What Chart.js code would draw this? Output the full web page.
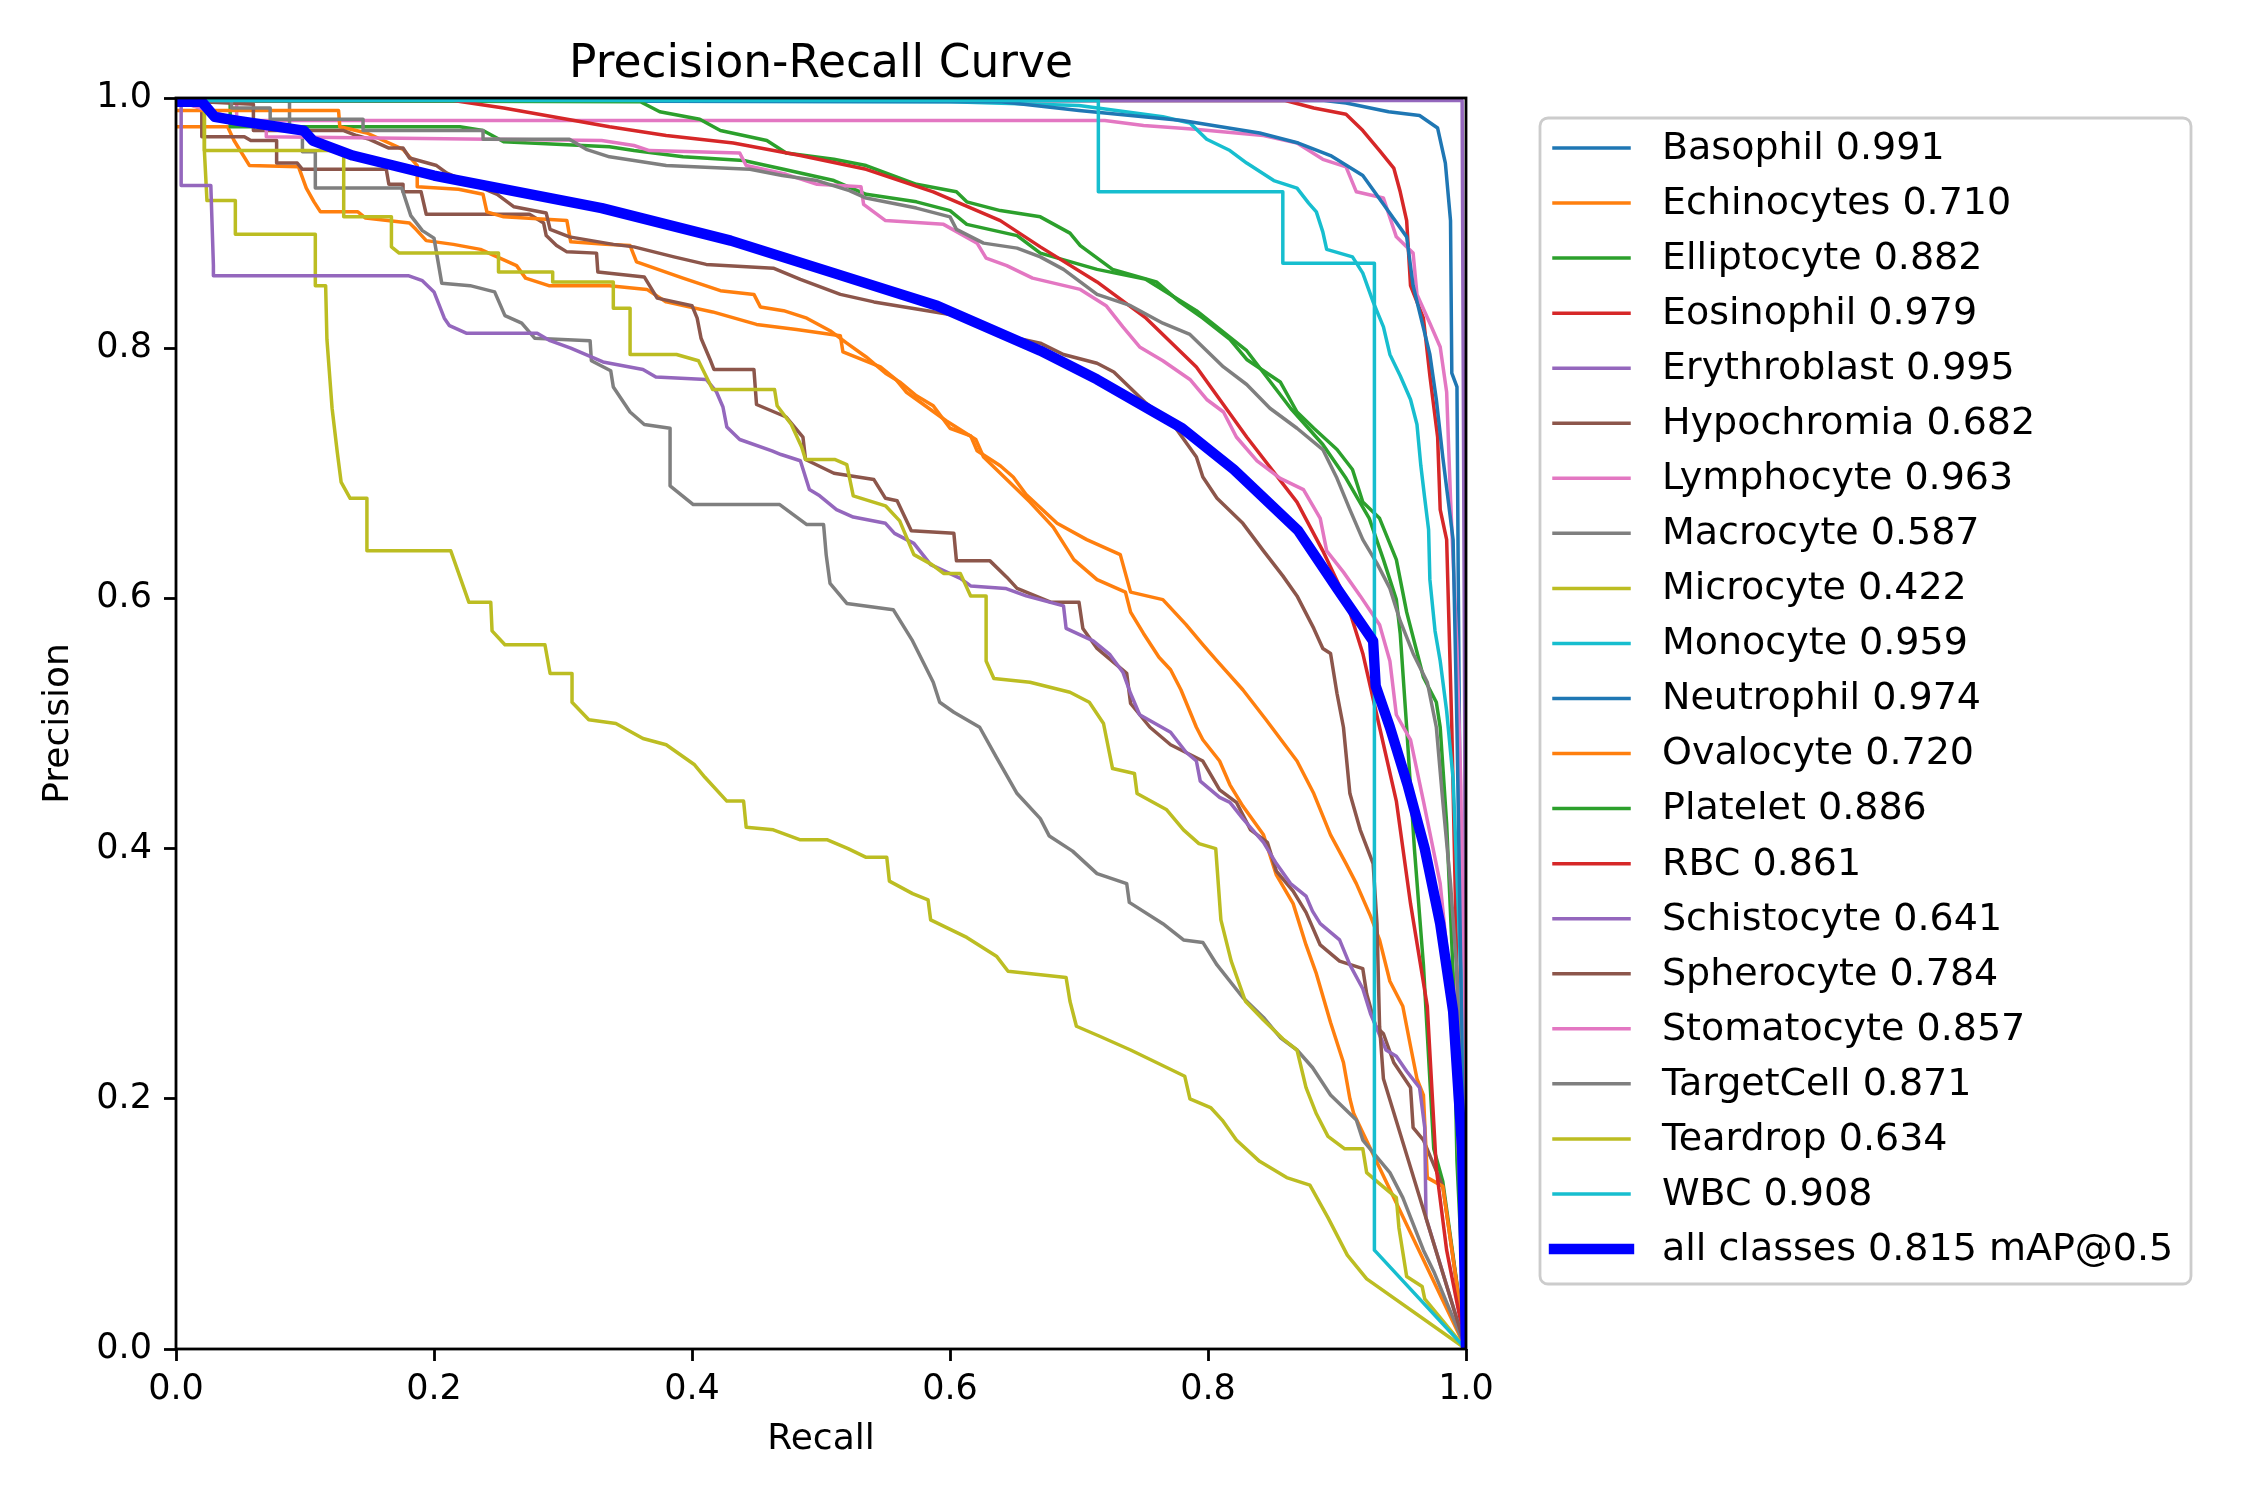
<!DOCTYPE html>
<html>
<head>
<meta charset="utf-8">
<title>Precision-Recall Curve</title>
<script src="https://cdn.jsdelivr.net/npm/chart.js@4.4.1/dist/chart.umd.min.js"></script>
<style>
  html, body { margin: 0; padding: 0; background: #fff; }
  canvas { display: block; }
</style>
</head>
<body>
<canvas id="prChart" width="2250" height="1500"></canvas>
<script>
const classNames = ['Basophil', 'Echinocytes', 'Elliptocyte', 'Eosinophil', 'Erythroblast', 'Hypochromia',
  'Lymphocyte', 'Macrocyte', 'Microcyte', 'Monocyte', 'Neutrophil', 'Ovalocyte', 'Platelet', 'RBC',
  'Schistocyte', 'Spherocyte', 'Stomatocyte', 'TargetCell', 'Teardrop', 'WBC'];
const apScores = [0.991, 0.710, 0.882, 0.979, 0.995, 0.682, 0.963, 0.587, 0.422, 0.959,
  0.974, 0.720, 0.886, 0.861, 0.641, 0.784, 0.857, 0.871, 0.634, 0.908];
const meanAP = 0.815;
const axisTicks = [0, 0.2, 0.4, 0.6, 0.8, 1.0];

// [recall, precision] pairs
const basophil = [[0,0.998],[0.89,0.998],[0.907,0.996],[0.94,0.989],[0.964,0.986],[0.978,0.976],[0.984,0.948],[0.988,0.902],[0.989,0.78],[0.993,0.769],[0.994,0.615],[0.996,0.35],[1,0]];
const echinocytes = [[0,0.977],[0.04,0.977],[0.045,0.966],[0.057,0.946],[0.095,0.945],[0.101,0.928],[0.107,0.917],[0.112,0.909],[0.141,0.909],[0.147,0.904],[0.181,0.9],[0.186,0.895],[0.194,0.886],[0.215,0.883],[0.236,0.879],[0.264,0.866],[0.271,0.856],[0.289,0.85],[0.336,0.85],[0.365,0.847],[0.38,0.837],[0.416,0.829],[0.45,0.819],[0.481,0.815],[0.515,0.81],[0.517,0.797],[0.546,0.785],[0.558,0.775],[0.566,0.765],[0.597,0.742],[0.62,0.727],[0.626,0.713],[0.652,0.687],[0.662,0.677],[0.68,0.657],[0.696,0.631],[0.714,0.615],[0.736,0.605],[0.74,0.589],[0.75,0.572],[0.762,0.553],[0.771,0.543],[0.779,0.527],[0.791,0.497],[0.796,0.487],[0.809,0.47],[0.817,0.451],[0.827,0.434],[0.843,0.411],[0.853,0.379],[0.866,0.356],[0.876,0.323],[0.884,0.3],[0.895,0.261],[0.905,0.229],[0.91,0.2],[0.913,0.188],[1,0]];
const elliptocyte = [[0,0.998],[0.042,0.998],[0.042,0.977],[0.22,0.977],[0.238,0.974],[0.254,0.965],[0.336,0.961],[0.355,0.958],[0.393,0.953],[0.44,0.95],[0.471,0.943],[0.51,0.934],[0.535,0.923],[0.574,0.917],[0.6,0.91],[0.613,0.899],[0.652,0.89],[0.67,0.876],[0.714,0.863],[0.752,0.855],[0.791,0.83],[0.83,0.798],[0.864,0.752],[0.889,0.723],[0.907,0.696],[0.925,0.664],[0.936,0.631],[0.946,0.599],[0.949,0.572],[0.954,0.497],[0.96,0.4],[0.967,0.307],[0.975,0.16],[0.982,0.134],[1,0]];
const eosinophil = [[0,0.998],[0.86,0.998],[0.882,0.992],[0.907,0.987],[0.92,0.974],[0.933,0.958],[0.944,0.944],[0.949,0.925],[0.954,0.902],[0.957,0.85],[0.967,0.824],[0.972,0.778],[0.978,0.729],[0.98,0.671],[0.985,0.647],[0.989,0.497],[0.993,0.3],[1,0]];
const erythroblast = [[0,0.998],[0.997,0.998],[0.999,0.5],[1,0]];
const hypochromia = [[0,0.998],[0.02,0.992],[0.02,0.969],[0.053,0.969],[0.058,0.966],[0.078,0.966],[0.078,0.948],[0.094,0.948],[0.098,0.943],[0.163,0.943],[0.165,0.931],[0.176,0.931],[0.176,0.925],[0.19,0.925],[0.194,0.907],[0.274,0.907],[0.285,0.9],[0.287,0.89],[0.295,0.882],[0.303,0.877],[0.326,0.876],[0.327,0.861],[0.363,0.857],[0.373,0.84],[0.4,0.834],[0.404,0.824],[0.407,0.808],[0.414,0.791],[0.417,0.783],[0.448,0.783],[0.45,0.755],[0.473,0.745],[0.486,0.729],[0.488,0.711],[0.51,0.7],[0.541,0.695],[0.55,0.68],[0.559,0.678],[0.57,0.654],[0.603,0.652],[0.605,0.63],[0.631,0.63],[0.644,0.617],[0.652,0.608],[0.678,0.597],[0.7,0.597],[0.703,0.576],[0.714,0.56],[0.737,0.54],[0.74,0.516],[0.755,0.497],[0.771,0.483],[0.796,0.47],[0.809,0.447],[0.822,0.437],[0.833,0.415],[0.846,0.405],[0.853,0.382],[0.866,0.366],[0.876,0.349],[0.887,0.323],[0.902,0.31],[0.92,0.304],[0.923,0.284],[0.93,0.258],[0.936,0.252],[0.944,0.229],[0.957,0.209],[0.959,0.177],[0.967,0.167],[0.982,0.13],[0.988,0.087],[1,0]];
const lymphocyte = [[0,0.998],[0.047,0.998],[0.047,0.982],[0.72,0.982],[0.75,0.978],[0.79,0.975],[0.843,0.97],[0.869,0.964],[0.889,0.951],[0.907,0.945],[0.915,0.925],[0.936,0.92],[0.946,0.889],[0.959,0.876],[0.962,0.843],[0.972,0.82],[0.98,0.801],[0.985,0.765],[0.988,0.68],[0.993,0.56],[0.996,0.45],[0.998,0.3],[1,0]];
const macrocyte = [[0,0.998],[0.088,0.998],[0.088,0.974],[0.098,0.974],[0.098,0.957],[0.108,0.957],[0.108,0.928],[0.175,0.928],[0.182,0.906],[0.191,0.894],[0.2,0.888],[0.206,0.852],[0.228,0.85],[0.247,0.845],[0.255,0.826],[0.268,0.82],[0.278,0.808],[0.321,0.806],[0.322,0.79],[0.337,0.782],[0.339,0.769],[0.352,0.749],[0.363,0.739],[0.383,0.736],[0.383,0.69],[0.401,0.675],[0.468,0.675],[0.489,0.659],[0.502,0.659],[0.504,0.635],[0.507,0.612],[0.52,0.596],[0.556,0.591],[0.571,0.566],[0.587,0.533],[0.592,0.517],[0.603,0.509],[0.623,0.497],[0.636,0.473],[0.652,0.444],[0.67,0.424],[0.677,0.41],[0.695,0.398],[0.714,0.38],[0.737,0.372],[0.739,0.357],[0.765,0.34],[0.781,0.327],[0.796,0.325],[0.807,0.307],[0.827,0.281],[0.843,0.265],[0.856,0.249],[0.869,0.239],[0.881,0.225],[0.895,0.203],[0.915,0.183],[0.92,0.167],[0.941,0.141],[0.951,0.121],[0.967,0.079],[0.975,0.062],[1,0]];
const microcyte = [[0,0.998],[0.022,0.998],[0.022,0.958],[0.024,0.918],[0.046,0.918],[0.046,0.891],[0.108,0.891],[0.108,0.85],[0.116,0.85],[0.117,0.807],[0.121,0.752],[0.125,0.717],[0.128,0.693],[0.135,0.68],[0.148,0.68],[0.148,0.638],[0.213,0.638],[0.227,0.597],[0.244,0.597],[0.245,0.574],[0.255,0.563],[0.286,0.563],[0.29,0.54],[0.307,0.54],[0.307,0.517],[0.32,0.503],[0.341,0.5],[0.362,0.488],[0.38,0.483],[0.402,0.467],[0.41,0.457],[0.427,0.438],[0.44,0.438],[0.442,0.417],[0.463,0.415],[0.484,0.407],[0.505,0.407],[0.521,0.4],[0.535,0.393],[0.551,0.393],[0.553,0.374],[0.571,0.364],[0.583,0.359],[0.585,0.343],[0.613,0.329],[0.636,0.314],[0.645,0.302],[0.69,0.297],[0.693,0.278],[0.698,0.258],[0.716,0.25],[0.74,0.239],[0.768,0.225],[0.782,0.218],[0.786,0.2],[0.802,0.193],[0.811,0.183],[0.822,0.167],[0.84,0.15],[0.861,0.137],[0.879,0.131],[0.893,0.105],[0.908,0.075],[0.923,0.056],[1,0]];
const monocyte = [[0,0.998],[0.6,0.997],[0.7,0.994],[0.765,0.985],[0.786,0.98],[0.799,0.967],[0.817,0.958],[0.83,0.948],[0.851,0.934],[0.869,0.928],[0.878,0.916],[0.884,0.909],[0.889,0.893],[0.892,0.879],[0.912,0.873],[0.92,0.86],[0.928,0.837],[0.936,0.817],[0.941,0.795],[0.949,0.778],[0.957,0.759],[0.962,0.739],[0.965,0.706],[0.968,0.68],[0.971,0.655],[0.972,0.615],[0.976,0.574],[0.98,0.55],[0.985,0.51],[0.99,0.456],[0.996,0.3],[1,0]];
const neutrophil = [[0,0.998],[0.64,0.997],[0.7,0.99],[0.78,0.982],[0.84,0.972],[0.87,0.964],[0.895,0.954],[0.92,0.938],[0.936,0.915],[0.954,0.889],[0.959,0.85],[0.972,0.795],[0.977,0.759],[0.982,0.713],[0.99,0.647],[0.993,0.497],[0.996,0.3],[1,0]];
const ovalocyte = [[0,0.99],[0.126,0.99],[0.127,0.977],[0.148,0.972],[0.176,0.959],[0.187,0.946],[0.187,0.929],[0.219,0.927],[0.238,0.923],[0.241,0.909],[0.254,0.905],[0.303,0.902],[0.306,0.885],[0.333,0.883],[0.352,0.882],[0.357,0.869],[0.393,0.856],[0.422,0.846],[0.448,0.843],[0.453,0.833],[0.471,0.83],[0.489,0.824],[0.507,0.814],[0.52,0.804],[0.535,0.793],[0.55,0.78],[0.561,0.773],[0.574,0.762],[0.587,0.754],[0.6,0.736],[0.616,0.73],[0.621,0.718],[0.639,0.706],[0.649,0.697],[0.659,0.683],[0.683,0.66],[0.706,0.647],[0.732,0.635],[0.74,0.605],[0.765,0.599],[0.783,0.579],[0.796,0.563],[0.807,0.55],[0.827,0.527],[0.845,0.503],[0.869,0.47],[0.882,0.444],[0.895,0.411],[0.907,0.388],[0.915,0.372],[0.926,0.346],[0.933,0.327],[0.941,0.294],[0.951,0.274],[0.957,0.242],[0.962,0.216],[0.967,0.203],[0.97,0.137],[0.982,0.13],[1,0]];
const platelet = [[0,0.998],[0.36,0.997],[0.375,0.989],[0.406,0.983],[0.422,0.974],[0.458,0.966],[0.473,0.956],[0.51,0.951],[0.535,0.946],[0.574,0.931],[0.605,0.925],[0.613,0.917],[0.639,0.91],[0.67,0.905],[0.693,0.892],[0.701,0.882],[0.726,0.863],[0.76,0.853],[0.778,0.837],[0.796,0.824],[0.817,0.807],[0.83,0.791],[0.856,0.773],[0.869,0.749],[0.882,0.736],[0.9,0.719],[0.912,0.703],[0.92,0.677],[0.933,0.664],[0.946,0.631],[0.954,0.589],[0.967,0.537],[0.977,0.517],[0.98,0.497],[0.985,0.42],[0.99,0.3],[0.993,0.15],[1,0]];
const rbc = [[0,0.998],[0.215,0.998],[0.254,0.992],[0.336,0.977],[0.38,0.97],[0.432,0.964],[0.484,0.954],[0.535,0.943],[0.587,0.925],[0.639,0.902],[0.67,0.881],[0.714,0.853],[0.752,0.824],[0.791,0.785],[0.83,0.729],[0.869,0.677],[0.889,0.638],[0.907,0.599],[0.92,0.556],[0.933,0.497],[0.946,0.438],[0.957,0.356],[0.97,0.274],[0.977,0.144],[0.985,0.079],[1,0]];
const schistocyte = [[0,0.998],[0.004,0.998],[0.004,0.93],[0.027,0.93],[0.029,0.866],[0.029,0.858],[0.18,0.858],[0.191,0.854],[0.2,0.845],[0.208,0.824],[0.212,0.818],[0.225,0.812],[0.28,0.812],[0.29,0.806],[0.306,0.8],[0.331,0.789],[0.362,0.783],[0.372,0.777],[0.411,0.775],[0.419,0.765],[0.424,0.753],[0.427,0.737],[0.437,0.727],[0.462,0.718],[0.469,0.715],[0.484,0.71],[0.491,0.687],[0.499,0.682],[0.512,0.671],[0.525,0.665],[0.55,0.66],[0.557,0.652],[0.572,0.644],[0.585,0.627],[0.608,0.616],[0.616,0.61],[0.643,0.608],[0.659,0.602],[0.688,0.594],[0.69,0.576],[0.711,0.566],[0.724,0.555],[0.734,0.541],[0.74,0.524],[0.747,0.507],[0.771,0.493],[0.783,0.477],[0.791,0.47],[0.794,0.454],[0.809,0.441],[0.817,0.437],[0.827,0.424],[0.843,0.405],[0.853,0.388],[0.864,0.372],[0.876,0.362],[0.881,0.35],[0.887,0.34],[0.902,0.327],[0.91,0.307],[0.92,0.288],[0.926,0.268],[0.938,0.239],[0.946,0.234],[0.954,0.222],[0.964,0.209],[0.968,0.177],[0.969,0.105],[1,0]];
const spherocyte = [[0,0.998],[0.06,0.995],[0.06,0.974],[0.13,0.974],[0.14,0.97],[0.15,0.967],[0.165,0.96],[0.176,0.96],[0.181,0.952],[0.202,0.946],[0.21,0.94],[0.249,0.923],[0.262,0.913],[0.287,0.908],[0.29,0.895],[0.305,0.889],[0.339,0.883],[0.355,0.881],[0.386,0.873],[0.411,0.867],[0.463,0.864],[0.484,0.855],[0.515,0.843],[0.541,0.837],[0.6,0.827],[0.639,0.811],[0.67,0.804],[0.688,0.795],[0.714,0.788],[0.727,0.781],[0.74,0.768],[0.752,0.756],[0.773,0.739],[0.791,0.713],[0.796,0.697],[0.807,0.68],[0.827,0.66],[0.843,0.638],[0.858,0.618],[0.869,0.602],[0.882,0.576],[0.889,0.56],[0.895,0.556],[0.9,0.524],[0.905,0.497],[0.91,0.444],[0.918,0.415],[0.928,0.388],[0.931,0.34],[0.933,0.258],[0.936,0.216],[1,0]];
const stomatocyte = [[0,0.998],[0.04,0.985],[0.07,0.98],[0.07,0.969],[0.33,0.966],[0.355,0.962],[0.367,0.958],[0.437,0.956],[0.442,0.946],[0.473,0.939],[0.497,0.931],[0.531,0.929],[0.533,0.915],[0.55,0.902],[0.595,0.899],[0.621,0.884],[0.628,0.872],[0.644,0.866],[0.664,0.856],[0.701,0.847],[0.721,0.834],[0.734,0.817],[0.747,0.801],[0.765,0.79],[0.786,0.775],[0.799,0.759],[0.812,0.749],[0.822,0.729],[0.838,0.71],[0.856,0.696],[0.874,0.687],[0.887,0.664],[0.892,0.638],[0.905,0.621],[0.918,0.602],[0.933,0.579],[0.941,0.55],[0.946,0.507],[0.957,0.487],[0.967,0.438],[0.98,0.372],[0.99,0.27],[1,0]];
const targetCell = [[0,0.998],[0.043,0.998],[0.043,0.992],[0.073,0.992],[0.073,0.983],[0.145,0.983],[0.145,0.974],[0.238,0.974],[0.238,0.967],[0.305,0.967],[0.318,0.959],[0.336,0.953],[0.355,0.95],[0.38,0.946],[0.445,0.943],[0.47,0.938],[0.497,0.934],[0.522,0.926],[0.535,0.92],[0.574,0.912],[0.6,0.905],[0.605,0.895],[0.626,0.884],[0.652,0.88],[0.67,0.873],[0.688,0.863],[0.714,0.843],[0.74,0.834],[0.765,0.82],[0.786,0.811],[0.812,0.785],[0.83,0.771],[0.848,0.752],[0.869,0.736],[0.889,0.719],[0.9,0.696],[0.91,0.671],[0.92,0.647],[0.931,0.628],[0.941,0.608],[0.949,0.582],[0.959,0.556],[0.97,0.533],[0.977,0.497],[0.982,0.438],[0.988,0.372],[0.993,0.3],[0.997,0.15],[1,0]];
const teardrop = [[0,0.998],[0.022,0.998],[0.022,0.958],[0.13,0.958],[0.13,0.905],[0.167,0.905],[0.167,0.881],[0.173,0.876],[0.25,0.876],[0.25,0.861],[0.292,0.861],[0.292,0.853],[0.339,0.853],[0.339,0.832],[0.352,0.832],[0.352,0.795],[0.388,0.795],[0.405,0.79],[0.416,0.767],[0.464,0.767],[0.466,0.754],[0.477,0.739],[0.485,0.721],[0.488,0.711],[0.511,0.711],[0.52,0.707],[0.525,0.682],[0.55,0.674],[0.561,0.662],[0.572,0.635],[0.586,0.627],[0.595,0.62],[0.608,0.62],[0.616,0.602],[0.628,0.602],[0.628,0.55],[0.634,0.536],[0.662,0.533],[0.693,0.525],[0.708,0.517],[0.719,0.5],[0.726,0.464],[0.743,0.46],[0.745,0.444],[0.768,0.431],[0.781,0.415],[0.793,0.404],[0.806,0.4],[0.81,0.343],[0.818,0.31],[0.829,0.278],[0.843,0.263],[0.858,0.248],[0.869,0.239],[0.876,0.209],[0.884,0.188],[0.893,0.17],[0.906,0.16],[0.92,0.16],[0.923,0.141],[0.932,0.133],[0.946,0.121],[0.948,0.097],[0.954,0.058],[0.966,0.05],[0.968,0.04],[1,0]];
const wbc = [[0,0.998],[0.715,0.998],[0.715,0.925],[0.858,0.925],[0.858,0.868],[0.929,0.868],[0.929,0.079],[1,0]];
const allClasses = [[0,0.997],[0.02,0.997],[0.03,0.985],[0.047,0.982],[0.099,0.974],[0.106,0.966],[0.137,0.954],[0.2,0.938],[0.25,0.928],[0.33,0.912],[0.43,0.886],[0.51,0.86],[0.59,0.834],[0.67,0.798],[0.714,0.775],[0.78,0.736],[0.82,0.703],[0.87,0.654],[0.9,0.608],[0.928,0.566],[0.93,0.53],[0.941,0.497],[0.955,0.45],[0.968,0.4],[0.98,0.34],[0.99,0.27],[0.997,0.16],[1,0]];

const curves = [basophil, echinocytes, elliptocyte, eosinophil, erythroblast, hypochromia, lymphocyte,
  macrocyte, microcyte, monocyte, neutrophil, ovalocyte, platelet, rbc, schistocyte, spherocyte,
  stomatocyte, targetCell, teardrop, wbc];

const tab10 = ['#1f77b4', '#ff7f0e', '#2ca02c', '#d62728', '#9467bd', '#8c564b', '#e377c2', '#7f7f7f', '#bcbd22', '#17becf'];
const FONT = '"DejaVu Sans", sans-serif';

const lineStyle = { pointRadius: 0, pointHoverRadius: 0, tension: 0, fill: false, clip: 0, borderJoinStyle: 'round' };

const datasets = curves.map((pts, i) => ({
  ...lineStyle,
  label: `${classNames[i]} ${apScores[i].toFixed(3)}`,
  data: pts.map(([r, p]) => ({ x: r, y: p })),
  borderColor: tab10[i % 10],
  borderWidth: 3.5,
  order: curves.length - i + 1, // later classes on top, like matplotlib
}));
datasets.push({
  ...lineStyle,
  label: `all classes ${meanAP.toFixed(3)} mAP@0.5`,
  data: allClasses.map(([r, p]) => ({ x: r, y: p })),
  borderColor: '#0000ff',
  borderWidth: 10.4,
  order: 0,
});

// title, axis labels, frame and legend, drawn the matplotlib way
const decorPlugin = {
  id: 'decor',
  afterDatasetsDraw(chart) {
    const { ctx, chartArea: a } = chart;
    ctx.save();
    ctx.strokeStyle = '#000';
    ctx.lineWidth = 2.8;
    ctx.strokeRect(a.left, a.top, a.right - a.left, a.bottom - a.top);
    ctx.restore();
  },
  afterDraw(chart) {
    const { ctx, chartArea: a } = chart;
    const midX = (a.left + a.right) / 2;
    ctx.save();
    ctx.fillStyle = '#000';
    ctx.textAlign = 'center';
    ctx.textBaseline = 'middle';
    ctx.font = `45.5px ${FONT}`;
    ctx.fillText('Precision-Recall Curve', midX, a.top - 33);
    ctx.font = `36px ${FONT}`;
    ctx.fillText('Recall', midX, a.bottom + 91);
    ctx.save();
    ctx.translate(a.left - 117, (a.top + a.bottom) / 2);
    ctx.rotate(-Math.PI / 2);
    ctx.fillText('Precision', 0, 0);
    ctx.restore();

    // legend box
    const bx = a.right + 74, by = a.top + 20, bw = 651, bh = 1166, rad = 8;
    ctx.beginPath();
    ctx.roundRect(bx, by, bw, bh, rad);
    ctx.fillStyle = 'rgba(255,255,255,0.8)';
    ctx.fill();
    ctx.strokeStyle = '#cccccc';
    ctx.lineWidth = 2.8;
    ctx.stroke();

    const rowH = 55.05;
    ctx.font = `38px ${FONT}`;
    ctx.textAlign = 'left';
    ctx.lineCap = 'square';
    chart.data.datasets.forEach((ds, i) => {
      const y = by + 30 + i * rowH;
      ctx.strokeStyle = ds.borderColor;
      ctx.lineWidth = ds.borderWidth;
      ctx.beginPath();
      ctx.moveTo(bx + 14, y);
      ctx.lineTo(bx + 89, y);
      ctx.stroke();
      ctx.fillStyle = '#000';
      ctx.fillText(ds.label, bx + 122, y + 1);
    });
    ctx.restore();
  }
};

const axisCommon = {
  type: 'linear',
  min: 0,
  max: 1,
  afterBuildTicks: (scale) => { scale.ticks = axisTicks.map(v => ({ value: v })); },
  ticks: {
    color: '#000',
    font: { family: FONT, size: 35 },
    padding: 12,
    callback: (v) => Number(v).toFixed(1),
  },
  grid: { drawOnChartArea: false, drawTicks: true, tickLength: 12, tickWidth: 2.8, tickColor: '#000' },
  border: { display: false },
};

new Chart(document.getElementById('prChart'), {
  type: 'line',
  data: { datasets },
  options: {
    responsive: false,
    animation: false,
    events: [],
    layout: { padding: { top: 98, right: 2250 - 1466, left: 0, bottom: 0 } },
    scales: {
      x: { ...axisCommon, position: 'bottom', ticks: { ...axisCommon.ticks, padding: 8 }, afterFit: (s) => { s.height = 151; } },
      y: { ...axisCommon, position: 'left', afterFit: (s) => { s.width = 176; } },
    },
    plugins: { legend: { display: false }, tooltip: { enabled: false } },
  },
  plugins: [decorPlugin],
});
</script>
</body>
</html>
